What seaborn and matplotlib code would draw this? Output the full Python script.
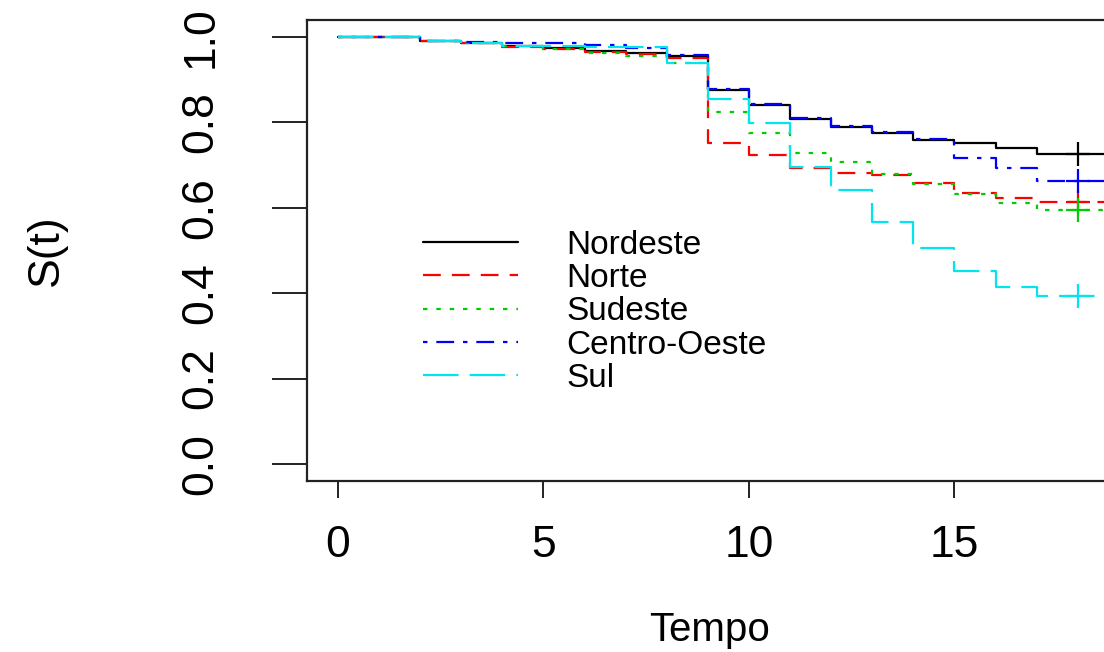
import numpy as np
import pandas as pd
import matplotlib
matplotlib.use("Agg")
import matplotlib.pyplot as plt
import seaborn as sns

# ---------------- data ----------------
regioes = ["Nordeste", "Norte", "Sudeste", "Centro-Oeste", "Sul"]
tempo = [0, 1, 2, 3, 4, 5, 6, 7, 8, 9, 10, 11, 12, 13, 14, 15, 16, 17, 18, 19]

s_nordeste = [1.0, 1.0, 0.990, 0.985, 0.978, 0.975, 0.968, 0.962, 0.955, 0.876,
              0.841, 0.808, 0.789, 0.775, 0.759, 0.752, 0.740, 0.727, 0.727, 0.727]
s_norte = [1.0, 1.0, 0.990, 0.985, 0.977, 0.972, 0.965, 0.960, 0.952, 0.752,
           0.724, 0.693, 0.681, 0.678, 0.658, 0.635, 0.623, 0.614, 0.614, 0.614]
s_sudeste = [1.0, 1.0, 0.990, 0.985, 0.978, 0.972, 0.962, 0.955, 0.940, 0.824,
             0.775, 0.728, 0.707, 0.680, 0.655, 0.632, 0.611, 0.594, 0.594, 0.594]
s_centro_oeste = [1.0, 1.0, 0.990, 0.988, 0.985, 0.985, 0.981, 0.974, 0.958, 0.878,
                  0.843, 0.810, 0.791, 0.777, 0.761, 0.716, 0.693, 0.662, 0.662, 0.662]
s_sul = [1.0, 1.0, 0.990, 0.985, 0.980, 0.978, 0.977, 0.977, 0.940, 0.854,
         0.799, 0.696, 0.642, 0.567, 0.506, 0.452, 0.415, 0.394, 0.394, 0.394]

tempo_censura = 18
x_ticks = [0, 5, 10, 15]
y_ticks = [0.0, 0.2, 0.4, 0.6, 0.8, 1.0]
y_tick_labels = ["0.0", "0.2", "0.4", "0.6", "0.8", "1.0"]

series = {
    "Nordeste": s_nordeste,
    "Norte": s_norte,
    "Sudeste": s_sudeste,
    "Centro-Oeste": s_centro_oeste,
    "Sul": s_sul,
}
df = pd.concat(
    [pd.DataFrame({"Tempo": tempo, "S": vals, "Regiao": reg}) for reg, vals in series.items()],
    ignore_index=True,
)

# ---------------- style ----------------
cores = {"Nordeste": "#000000", "Norte": "#FF0000", "Sudeste": "#00CD00",
         "Centro-Oeste": "#0000FF", "Sul": "#00E5EE"}
tracos = {"Nordeste": "", "Norte": (8, 5), "Sudeste": (2, 4),
          "Centro-Oeste": (2, 4, 8, 4), "Sul": (16, 5)}

sns.set_style("white")
plt.rcParams["font.family"] = ["Liberation Sans", "DejaVu Sans"]
plt.rcParams["text.color"] = "black"
plt.rcParams["axes.labelcolor"] = "black"
plt.rcParams["xtick.color"] = "black"
plt.rcParams["ytick.color"] = "black"

fig = plt.figure(figsize=(11.04, 6.52), dpi=100)
ax = fig.add_axes([307.4 / 1104, 1 - 481 / 652, (1133 - 307.4) / 1104, 461 / 652])

sns.lineplot(data=df, x="Tempo", y="S", hue="Regiao", style="Regiao",
             hue_order=regioes, style_order=regioes, palette=cores, dashes=tracos,
             drawstyle="steps-post", estimator=None, linewidth=1.6, ax=ax)

# censoring marks
for reg in regioes:
    vals = series[reg]
    ax.plot([tempo_censura], [vals[tempo.index(tempo_censura)]], marker="+",
            markersize=17, markeredgewidth=1.6, color=cores[reg], linestyle="none")

ax.set_xlim(-0.744, 19.344)
ax.set_ylim(-0.04, 1.04)
ax.set_xticks(x_ticks)
ax.set_xticklabels([str(t) for t in x_ticks])
ax.set_yticks(y_ticks)
ax.set_yticklabels(y_tick_labels, rotation=90, va="center")

for sp in ax.spines.values():
    sp.set_visible(True)
    sp.set_color("#222222")
    sp.set_linewidth(1.6)

ax.tick_params(axis="x", which="major", direction="out", length=12, width=1.4,
               color="#222222", labelsize=32, pad=20, bottom=True)
ax.tick_params(axis="y", which="major", direction="out", length=25, width=1.4,
               color="#222222", labelsize=32, pad=37, left=True)

ax.set_xlabel("Tempo", fontsize=29)
ax.set_ylabel("S(t)", fontsize=32)
ax.xaxis.set_label_coords((710 - 307.4) / 825.6, (481 - 611) / 461)
ax.yaxis.set_label_coords((67 - 307.4) / 825.6, 0.5)

sns.move_legend(ax, "upper left", bbox_to_anchor=(0.14, 0.545), frameon=False,
                title=None, fontsize=24, labelspacing=0.07, handlelength=2.85,
                handletextpad=1.45, borderpad=0, borderaxespad=0)

fig.savefig("out.png", dpi=100)
